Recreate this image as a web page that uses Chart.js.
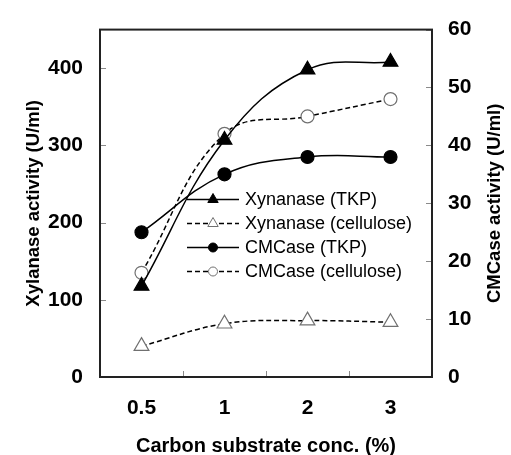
<!DOCTYPE html>
<html>
<head>
<meta charset="utf-8">
<script src="https://cdn.jsdelivr.net/npm/chart.js@4/dist/chart.umd.min.js"></script>
<style>
html,body{margin:0;padding:0;background:#fff;}
canvas{display:block;}
</style>
</head>
<body>
<canvas id="c" width="511" height="455"></canvas>
<script>
const categories = ['0.5', '1', '2', '3'];
const xylanaseTKP = [118, 307, 398, 408];
const xylanaseCellulose = [40, 69, 73, 71];
const cmcaseTKP = [25, 35, 38, 38];
const cmcaseCellulose = [18, 42, 45, 48];
const leftTicks = [0, 100, 200, 300, 400];
const rightTicks = [0, 10, 20, 30, 40, 50, 60];
const seriesNames = ['Xynanase (TKP)', 'Xynanase (cellulose)', 'CMCase (TKP)', 'CMCase (cellulose)'];
const xTitle = 'Carbon substrate conc. (%)';
const leftTitle = 'Xylanase activity (U/ml)';
const rightTitle = 'CMCase activity (U/ml)';

const FONT = 'Arial, "Liberation Sans", sans-serif';
const OPEN = '#707070';

const framePlugin = {
  id: 'frame',
  beforeDatasetsDraw(chart) {
    const {ctx, chartArea: a, scales} = chart;
    ctx.save();
    ctx.strokeStyle = '#8a8a8a';
    ctx.lineWidth = 1;
    ctx.beginPath();
    leftTicks.forEach(v => {
      const y = Math.round(scales.y.getPixelForValue(v)) + 0.5;
      ctx.moveTo(a.left, y); ctx.lineTo(a.left + 6, y);
    });
    rightTicks.forEach(v => {
      const y = Math.round(scales.y2.getPixelForValue(v)) + 0.5;
      ctx.moveTo(a.right, y); ctx.lineTo(a.right - 6, y);
    });
    for (let i = 0; i < categories.length - 1; i++) {
      const x = Math.round((scales.x.getPixelForValue(i) + scales.x.getPixelForValue(i + 1)) / 2) + 0.5;
      ctx.moveTo(x, a.bottom); ctx.lineTo(x, a.bottom - 6);
    }
    ctx.stroke();
    ctx.restore();
  },
  afterDraw(chart) {
    const {ctx, chartArea: a} = chart;
    ctx.save();
    ctx.strokeStyle = '#222';
    ctx.lineWidth = 2;
    ctx.strokeRect(a.left, a.top, a.right - a.left, a.bottom - a.top);
    ctx.fillStyle = '#000';
    ctx.font = 'bold 20px ' + FONT;
    ctx.textAlign = 'center';
    ctx.textBaseline = 'alphabetic';
    ctx.fillText(xTitle, (a.left + a.right) / 2, 452);
    ctx.font = 'bold 18.5px ' + FONT;
    ctx.textBaseline = 'middle';
    const cy = (a.top + a.bottom) / 2;
    ctx.save();
    ctx.translate(34, cy);
    ctx.rotate(-Math.PI / 2);
    ctx.fillText(leftTitle, 0, 0);
    ctx.restore();
    ctx.save();
    ctx.translate(495, cy);
    ctx.rotate(-Math.PI / 2);
    ctx.fillText(rightTitle, 0, 0);
    ctx.restore();
    const rows = [199, 223, 247, 271];
    chart.data.datasets.forEach((ds, i) => {
      const y = rows[i] + 0.5;
      ctx.save();
      ctx.strokeStyle = '#000';
      ctx.lineWidth = 1.5;
      ctx.setLineDash(ds.borderDash || []);
      ctx.beginPath();
      ctx.moveTo(187, y); ctx.lineTo(239, y);
      ctx.stroke();
      ctx.restore();
      ctx.save();
      ctx.fillStyle = ds.pointBackgroundColor;
      ctx.strokeStyle = ds.pointBorderColor;
      ctx.lineWidth = 1;
      ctx.beginPath();
      if (ds.pointStyle === 'circle') {
        ctx.arc(213, y, 4.5, 0, Math.PI * 2);
      } else {
        const r = 6;
        ctx.moveTo(213, y - r);
        ctx.lineTo(213 + r * Math.sin(Math.PI / 3), y + r * 0.5);
        ctx.lineTo(213 - r * Math.sin(Math.PI / 3), y + r * 0.5);
        ctx.closePath();
      }
      ctx.fill();
      ctx.stroke();
      ctx.restore();
      ctx.fillStyle = '#000';
      ctx.font = '18px ' + FONT;
      ctx.textAlign = 'left';
      ctx.textBaseline = 'middle';
      ctx.fillText(seriesNames[i], 245, rows[i] + 1);
    });
    ctx.restore();
  }
};

const common = {
  borderColor: '#000',
  borderWidth: 1.5,
  tension: 0.4,
  fill: false,
  pointBorderWidth: 1.2
};

new Chart(document.getElementById('c'), {
  type: 'line',
  data: {
    labels: categories,
    datasets: [
      Object.assign({}, common, {
        label: seriesNames[0], data: xylanaseTKP, yAxisID: 'y',
        pointStyle: 'triangle', pointRadius: 8.5,
        pointBackgroundColor: '#000', pointBorderColor: '#000'
      }),
      Object.assign({}, common, {
        label: seriesNames[1], data: xylanaseCellulose, yAxisID: 'y',
        borderDash: [5, 3],
        pointStyle: 'triangle', pointRadius: 8.5,
        pointBackgroundColor: '#fff', pointBorderColor: OPEN
      }),
      Object.assign({}, common, {
        label: seriesNames[2], data: cmcaseTKP, yAxisID: 'y2',
        pointStyle: 'circle', pointRadius: 6.5,
        pointBackgroundColor: '#000', pointBorderColor: '#000'
      }),
      Object.assign({}, common, {
        label: seriesNames[3], data: cmcaseCellulose, yAxisID: 'y2',
        borderDash: [5, 3],
        pointStyle: 'circle', pointRadius: 6.5,
        pointBackgroundColor: '#fff', pointBorderColor: OPEN
      })
    ]
  },
  options: {
    responsive: false,
    animation: false,
    layout: {padding: {top: 14, left: 0, right: 0, bottom: 0}},
    plugins: {legend: {display: false}, tooltip: {enabled: false}},
    scales: {
      x: {
        type: 'category',
        offset: true,
        grid: {display: false, drawTicks: false},
        border: {display: false},
        ticks: {color: '#000', font: {family: FONT, size: 21, weight: 'bold'}, padding: 19, maxRotation: 0},
        afterFit(s) { s.height = 78; }
      },
      y: {
        position: 'left',
        min: 0, max: 450,
        grid: {display: false, drawTicks: false},
        border: {display: false},
        afterBuildTicks(s) { s.ticks = leftTicks.map(v => ({value: v})); },
        ticks: {color: '#000', font: {family: FONT, size: 21, weight: 'bold'}, padding: 17},
        afterFit(s) { s.width = 100; }
      },
      y2: {
        position: 'right',
        min: 0, max: 60,
        grid: {display: false, drawTicks: false},
        border: {display: false},
        afterBuildTicks(s) { s.ticks = rightTicks.map(v => ({value: v})); },
        ticks: {color: '#000', font: {family: FONT, size: 21, weight: 'bold'}, padding: 16},
        afterFit(s) { s.width = 79; }
      }
    }
  },
  plugins: [framePlugin]
});
</script>
</body>
</html>
